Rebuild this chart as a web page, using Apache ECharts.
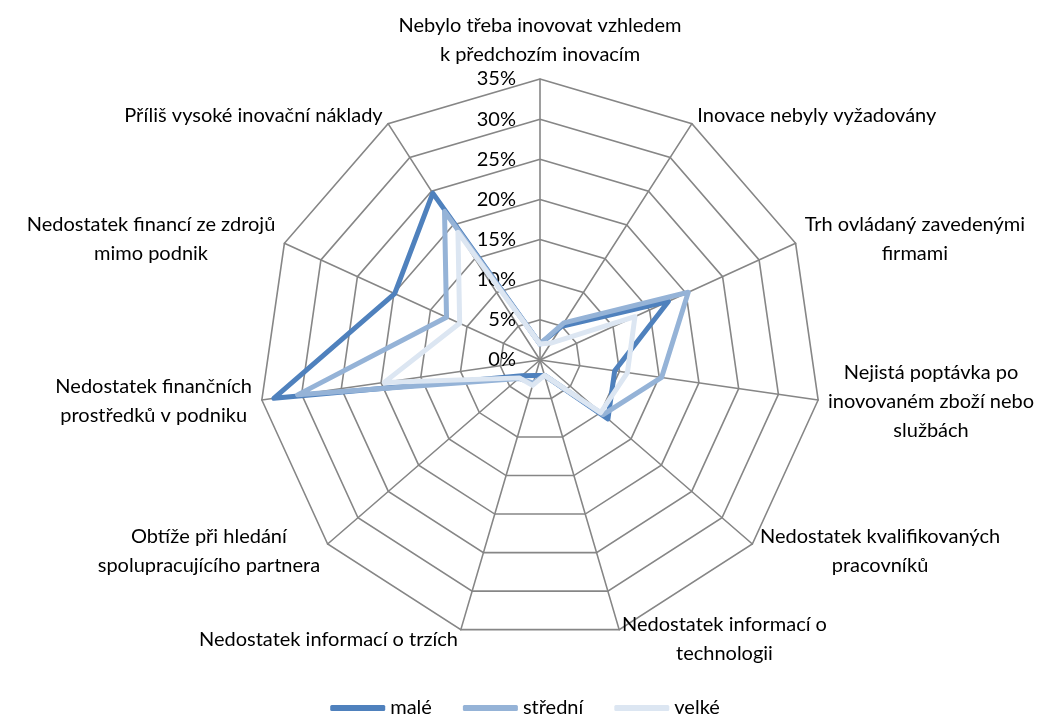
<!DOCTYPE html>
<html>
<head>
<meta charset="utf-8">
<script src="https://cdn.jsdelivr.net/npm/echarts@6/dist/echarts.min.js"></script>
<style>
html,body{margin:0;padding:0;background:#fff;}
#chart{width:1050px;height:717px;}
</style>
</head>
<body>
<div id="chart"></div>
<script>
var categories = [
  "Nebylo třeba inovovat vzhledem\nk předchozím inovacím",
  "Inovace nebyly vyžadovány",
  "Trh ovládaný zavedenými\nfirmami",
  "Nejistá poptávka po\ninovovaném zboží nebo\nslužbách",
  "Nedostatek kvalifikovaných\npracovníků",
  "Nedostatek informací o\ntechnologii",
  "Nedostatek informací o trzích",
  "Obtíže při hledání\nspolupracujícího partnera",
  "Nedostatek finančních\nprostředků v podniku",
  "Nedostatek financí ze zdrojů\nmimo podnik",
  "Příliš vysoké inovační náklady"
];
var seriesNames = ["malé", "střední", "velké"];
var male    = [2, 5, 17.6, 9.4, 11.2, 2, 2, 3, 33.5, 19.9, 24.7];
var stredni = [2, 5.5, 20.3, 15.3, 10.4, 2, 3, 3.5, 30.5, 12.8, 22];
var velke   = [2, 2.5, 13, 11, 10, 2, 3.3, 3.4, 19.6, 11, 18.9];
var tickLabels = ["0%", "5%", "10%", "15%", "20%", "25%", "30%", "35%"];
var axisMax = 35;

var colors = ["#4F81BD", "#95B3D7", "#DCE6F2"];
var FONT = "Lato";
var FS = 20;

// ECharts radar runs counter-clockwise; reorder so categories run clockwise
function cw(arr) { return [arr[0]].concat(arr.slice(1).reverse()); }

var indicators = cw(categories).map(function (c, i) {
  var ind = { name: c, min: 0, max: axisMax };
  if (i === 0) {
    ind.axisLabel = {
      show: true,
      color: "#000",
      fontFamily: FONT,
      fontSize: FS,
      margin: 24,
      formatter: function (v) { return tickLabels[Math.round(v / 5)]; }
    };
  }
  return ind;
});

var chart = echarts.init(document.getElementById("chart"));
chart.setOption({
  animation: false,
  color: colors,
  legend: {
    bottom: -6,
    left: "center",
    icon: "roundRect",
    itemWidth: 55,
    itemHeight: 6,
    itemGap: 31,
    textStyle: { fontFamily: FONT, fontSize: FS, color: "#000" },
    data: seriesNames
  },
  radar: {
    center: [540, 360],
    radius: 281,
    startAngle: 90,
    splitNumber: 7,
    shape: "polygon",
    nameGap: 10,
    axisName: {
      color: "#000",
      fontFamily: FONT,
      fontSize: FS,
      lineHeight: 29,
      formatter: function (n) { return "{c|" + n.split("\n").join("}\n{c|") + "}"; },
      rich: { c: { align: "center", fontFamily: FONT, fontSize: FS, lineHeight: 29, color: "#000" } }
    },
    axisLine: { lineStyle: { color: "#868686", width: 1.6 } },
    splitLine: { lineStyle: { color: "#868686", width: 1.6 } },
    splitArea: { show: false },
    axisTick: { show: false },
    axisLabel: { show: false },
    indicator: indicators
  },
  series: [{
    type: "radar",
    symbol: "none",
    data: [
      { name: seriesNames[0], value: cw(male), lineStyle: { width: 5, color: colors[0], cap: "round", join: "round" } },
      { name: seriesNames[1], value: cw(stredni), lineStyle: { width: 5, color: colors[1], cap: "round", join: "round" } },
      { name: seriesNames[2], value: cw(velke), lineStyle: { width: 5, color: colors[2], cap: "round", join: "round" } }
    ]
  }]
});
</script>
</body>
</html>
